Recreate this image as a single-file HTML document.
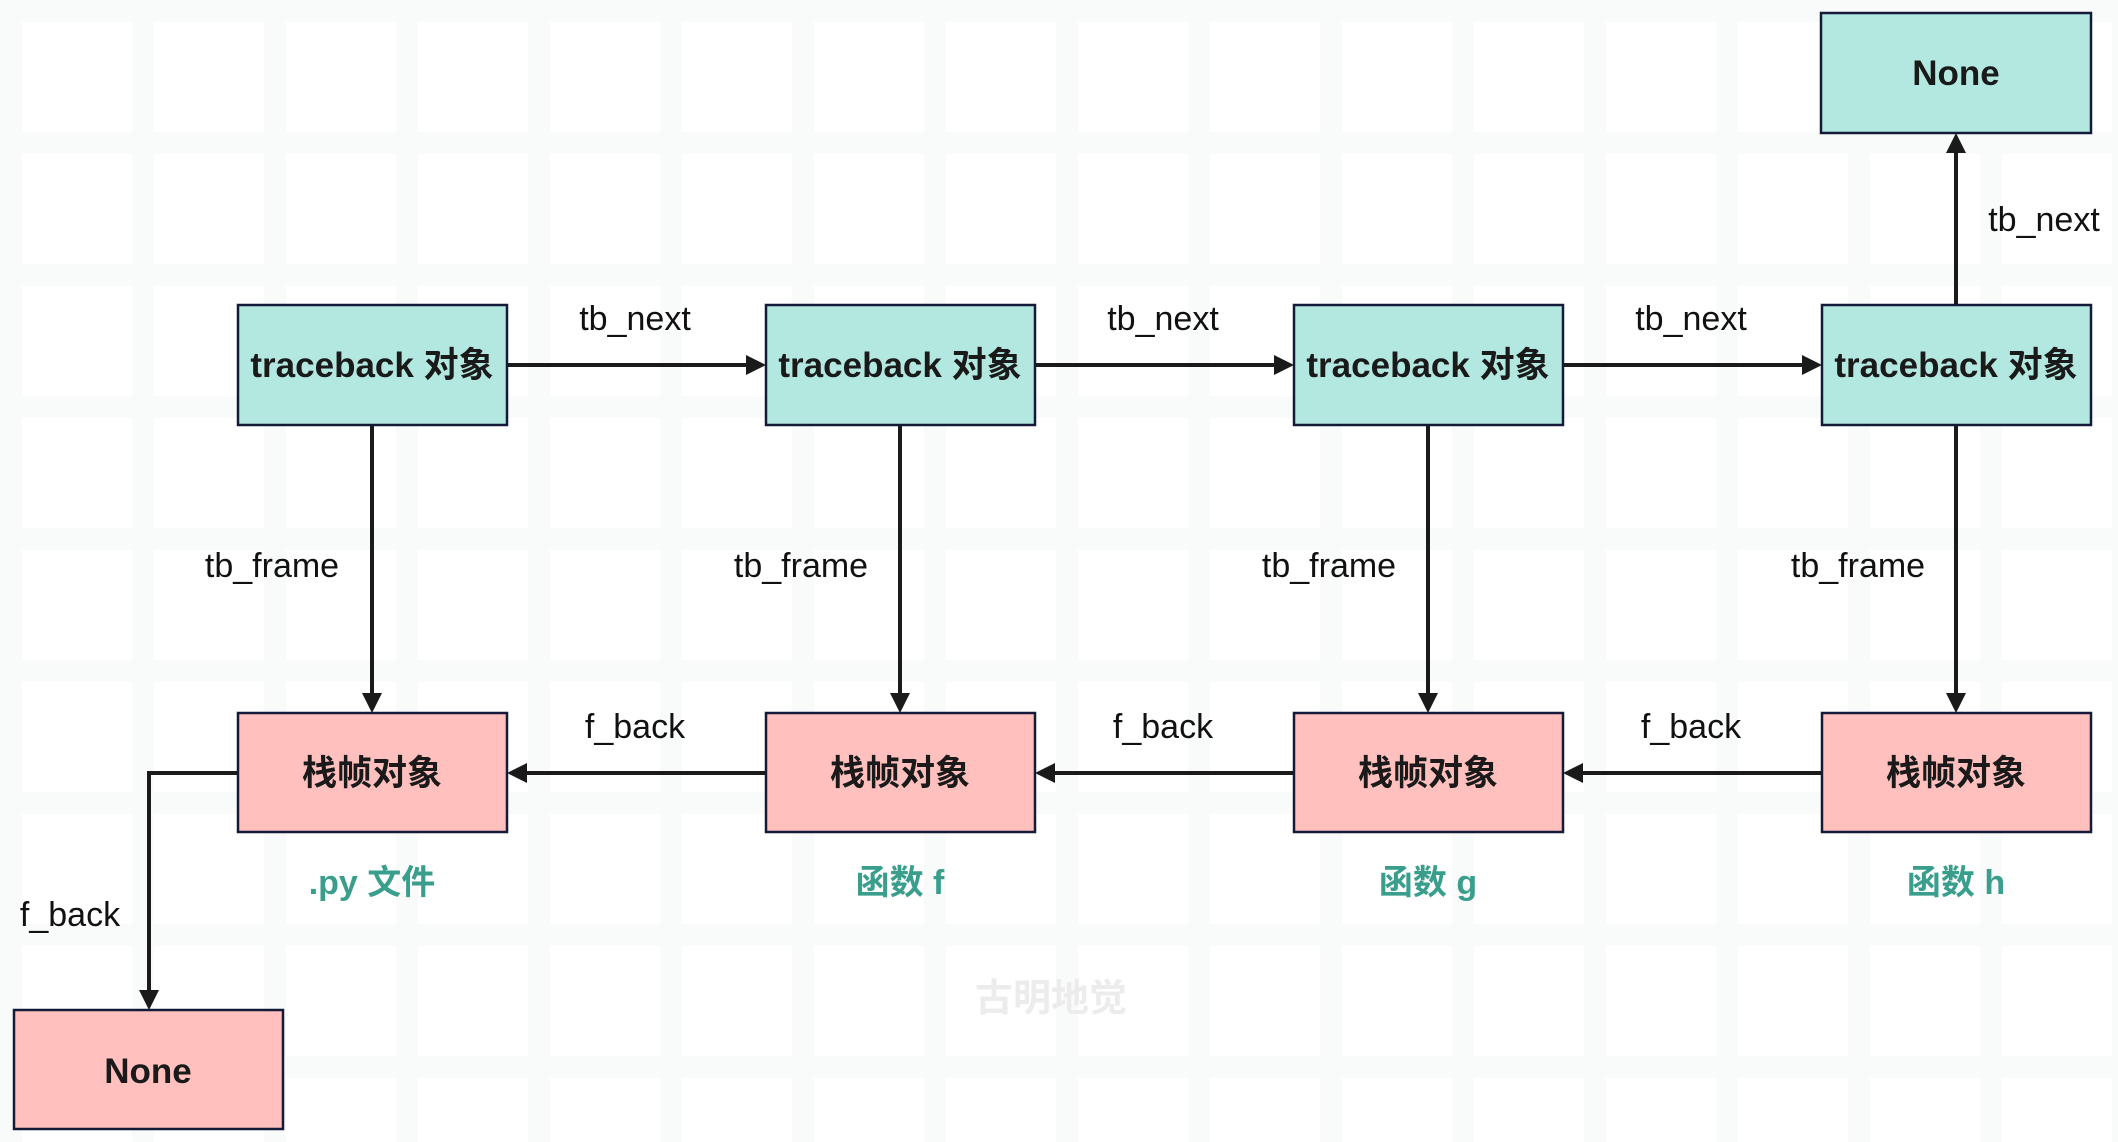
<!DOCTYPE html>
<html><head><meta charset="utf-8"><style>
html,body{margin:0;padding:0;background:#fff;}
svg{display:block}
.lbl{font-family:"Liberation Sans","Noto Sans CJK SC",sans-serif;font-size:34px;fill:#111;}
.box{font-family:"Liberation Sans","Noto Sans CJK SC",sans-serif;font-size:35px;font-weight:bold;fill:#1a1a1a;}
.cap{font-family:"Liberation Sans","Noto Sans CJK SC",sans-serif;font-size:34px;font-weight:bold;fill:#3a9e8c;}
</style></head><body>
<svg width="2118" height="1142" viewBox="0 0 2118 1142" xmlns="http://www.w3.org/2000/svg">
<defs>
<pattern id="g" width="132" height="132" patternUnits="userSpaceOnUse">
<rect x="0" y="0" width="22" height="132" fill="#f9fbfb"/>
<rect x="0" y="0" width="132" height="22" fill="#f9fbfb"/>
</pattern>
</defs>
<rect width="2118" height="1142" fill="#fff"/>
<rect width="2118" height="1142" fill="url(#g)"/>
<g stroke="#1a1a1a" stroke-width="4" fill="none">
<line x1="507" y1="365" x2="748" y2="365"/>
<line x1="1035" y1="365" x2="1276" y2="365"/>
<line x1="1563" y1="365" x2="1804" y2="365"/>
<line x1="1956" y1="305" x2="1956" y2="150"/>
<line x1="372" y1="425" x2="372" y2="695"/>
<line x1="900" y1="425" x2="900" y2="695"/>
<line x1="1428" y1="425" x2="1428" y2="695"/>
<line x1="1956" y1="425" x2="1956" y2="695"/>
<line x1="766" y1="773" x2="525" y2="773"/>
<line x1="1294" y1="773" x2="1053" y2="773"/>
<line x1="1822" y1="773" x2="1581" y2="773"/>
<polyline points="238,773 149,773 149,992"/>
</g>
<g fill="#1a1a1a">
<polygon points="766,365 746,355 746,375"/>
<polygon points="1294,365 1274,355 1274,375"/>
<polygon points="1822,365 1802,355 1802,375"/>
<polygon points="1956,133 1946,153 1966,153"/>
<polygon points="372,713 362,693 382,693"/>
<polygon points="900,713 890,693 910,693"/>
<polygon points="1428,713 1418,693 1438,693"/>
<polygon points="1956,713 1946,693 1966,693"/>
<polygon points="507,773 527,763 527,783"/>
<polygon points="1035,773 1055,763 1055,783"/>
<polygon points="1563,773 1583,763 1583,783"/>
<polygon points="149,1010 139,990 159,990"/>
</g>
<g stroke="#141a3a" stroke-width="2.5">
<rect x="238" y="305" width="269" height="120" fill="#b3e8e0"/>
<rect x="766" y="305" width="269" height="120" fill="#b3e8e0"/>
<rect x="1294" y="305" width="269" height="120" fill="#b3e8e0"/>
<rect x="1822" y="305" width="269" height="120" fill="#b3e8e0"/>
<rect x="1821" y="13" width="270" height="120" fill="#b3e8e0"/>
<rect x="238" y="713" width="269" height="119" fill="#ffc0be"/>
<rect x="766" y="713" width="269" height="119" fill="#ffc0be"/>
<rect x="1294" y="713" width="269" height="119" fill="#ffc0be"/>
<rect x="1822" y="713" width="269" height="119" fill="#ffc0be"/>
<rect x="14" y="1010" width="269" height="119" fill="#ffc0be"/>
</g>
<g class="box" text-anchor="middle">
<text x="372" y="377">traceback 对象</text>
<text x="900" y="377">traceback 对象</text>
<text x="1428" y="377">traceback 对象</text>
<text x="1956" y="377">traceback 对象</text>
<text x="1956" y="85">None</text>
<text x="372" y="785">栈帧对象</text>
<text x="900" y="785">栈帧对象</text>
<text x="1428" y="785">栈帧对象</text>
<text x="1956" y="785">栈帧对象</text>
<text x="148" y="1083">None</text>
</g>
<g class="lbl" text-anchor="middle">
<text x="635" y="330">tb_next</text>
<text x="1163" y="330">tb_next</text>
<text x="1691" y="330">tb_next</text>
<text x="2044" y="231">tb_next</text>
<text x="272" y="577">tb_frame</text>
<text x="801" y="577">tb_frame</text>
<text x="1329" y="577">tb_frame</text>
<text x="1858" y="577">tb_frame</text>
<text x="635" y="738">f_back</text>
<text x="1163" y="738">f_back</text>
<text x="1691" y="738">f_back</text>
<text x="70" y="926">f_back</text>
</g>
<g class="cap" text-anchor="middle">
<text x="372" y="894">.py 文件</text>
<text x="900" y="894">函数 f</text>
<text x="1428" y="894">函数 g</text>
<text x="1956" y="894">函数 h</text>
</g>
<text x="1051" y="1011" text-anchor="middle" font-family="Liberation Sans,Noto Sans CJK SC,sans-serif" font-size="38" font-weight="bold" fill="#ececec">古明地觉</text>
</svg>
</body></html>
